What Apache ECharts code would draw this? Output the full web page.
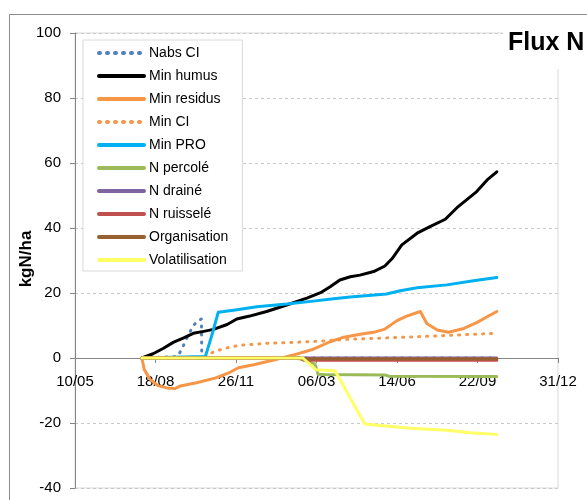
<!DOCTYPE html>
<html>
<head>
<meta charset="utf-8">
<title>Flux N</title>
<script src="https://cdn.jsdelivr.net/npm/echarts@6/dist/echarts.min.js"></script>
<style>
  html, body { margin: 0; padding: 0; background: #fff; }
  #chart { width: 587px; height: 500px; }
</style>
</head>
<body>
<div id="chart"></div>
<script>
// x = jours depuis le 10/05, y = kgN/ha
const xTickLabels = ['10/05', '18/08', '26/11', '06/03', '14/06', '22/09', '31/12'];

const nabsCI = [[83, 0], [125, 0.4], [128, 0.6], [133, 3], [137, 5], [141, 7.3], [147, 9.8], [151, 11.2], [157, 12], [157.5, 0], [524, 0]];
const minHumus = [[83, 0], [97, 1.3], [110, 3], [122, 4.8], [135, 6.2], [147, 7.6], [160, 8.2], [172, 8.8], [189, 10.3], [201, 12], [217, 12.9], [238, 14.3], [263, 16.3], [288, 18.4], [305, 20.1], [317, 21.9], [329, 24], [342, 25], [354, 25.5], [371, 26.6], [385, 28.3], [394, 30.6], [406, 34.8], [425, 38.4], [441, 40.4], [460, 42.7], [476, 46.6], [499, 51.2], [512, 54.8], [524, 57.3]];
const minResidus = [[83, 0], [86, -3.5], [93, -6.5], [103, -8.5], [114, -9.2], [124, -9.4], [131, -8.6], [151, -7.6], [174, -6.2], [191, -4.6], [203, -3], [222, -2.1], [247, -0.6], [271, 0.9], [296, 2.7], [317, 5], [334, 6.4], [354, 7.3], [371, 7.9], [385, 8.9], [400, 11.5], [412, 12.9], [429, 14.3], [437, 10.6], [450, 8.6], [464, 7.9], [483, 9.1], [499, 10.9], [512, 12.7], [524, 14.3]];
const minCI = [[83, 0], [162, 0], [168, 1.4], [176, 2.2], [184, 2.8], [195, 3.5], [209, 4], [238, 4.5], [271, 4.8], [305, 5.2], [329, 5.6], [342, 5.8], [400, 6.3], [450, 6.8], [495, 7.3], [524, 7.6]];
const minPRO = [[83, 0], [162, 0.5], [170, 7], [178, 14.1], [199, 14.8], [226, 15.8], [263, 16.6], [296, 17.5], [321, 18.2], [342, 18.8], [387, 19.7], [404, 20.7], [425, 21.6], [462, 22.5], [495, 23.8], [524, 24.8]];
const nPercole = [[83, 0], [276, 0], [298, -1.8], [302, -5], [310, -5.1], [385, -5.2], [390, -5.6], [524, -5.7]];
const nDraine = [[83, 0], [524, 0]];
const nRuissele = [[83, 0], [280, 0], [285, -0.7], [524, -0.7]];
const organisation = [[83, 0], [280, 0], [285, -0.2], [524, -0.2]];
const volatilisation = [[83, 0], [283, 0], [299, -3.6], [323, -3.9], [360, -20.3], [379, -20.8], [421, -21.7], [462, -22.2], [491, -23], [524, -23.5]];

const FONT = 'Liberation Sans';
const Y_MIN = -40, Y_MAX = 100;
const GRID_TOP = 33, GRID_BOTTOM = 12, H = 500;

function line(name, data, color, dotted) {
  return {
    name: name,
    type: 'line',
    data: data,
    symbol: 'none',
    silent: true,
    lineStyle: {
      color: color,
      width: 3,
      type: dotted ? [1, 7] : 'solid',
      cap: 'round',
      join: 'round'
    },
    itemStyle: { color: color }
  };
}

// l'axe des x croise l'axe des y a 0 (etiquettes sous la ligne du zero)
const plotH = H - GRID_TOP - GRID_BOTTOM;
const zeroOffset = -plotH * (0 - Y_MIN) / (Y_MAX - Y_MIN);

const chart = echarts.init(document.getElementById('chart'), null, { renderer: 'canvas' });

chart.setOption({
  animation: false,
  backgroundColor: '#fff',
  textStyle: { fontFamily: FONT },
  title: {
    text: 'Flux N',
    left: 503,
    top: 24,
    padding: [7, 20, 13, 5],
    backgroundColor: '#fff',
    textStyle: { fontFamily: FONT, fontSize: 25, fontWeight: 'bold', color: '#000' }
  },
  graphic: [{
    type: 'rect',
    shape: { x: 9.5, y: 14.5, width: 620, height: 520 },
    style: { fill: null, stroke: '#8c8c8c', lineWidth: 1 },
    silent: true
  }],
  legend: {
    orient: 'vertical',
    left: 83,
    top: 40,
    itemWidth: 45,
    itemHeight: 14,
    itemGap: 9,
    padding: [6, 14, 4, 14],
    backgroundColor: '#fff',
    borderColor: '#d9d9d9',
    borderWidth: 1,
    borderRadius: 0,
    selectedMode: false,
    itemStyle: { opacity: 0 },
    lineStyle: { width: 4 },
    textStyle: { fontFamily: FONT, fontSize: 14, color: '#000' }
  },
  grid: {
    left: 75,
    right: 29,
    top: GRID_TOP,
    bottom: GRID_BOTTOM,
    show: true,
    borderColor: '#d9d9d9',
    borderWidth: 1
  },
  xAxis: {
    type: 'value',
    min: 0,
    max: 600,
    interval: 100,
    position: 'bottom',
    offset: zeroOffset,
    axisLine: { onZero: false, lineStyle: { color: '#868686', width: 1 } },
    axisTick: { show: true, length: 5, lineStyle: { color: '#868686' } },
    splitLine: { show: false },
    axisLabel: {
      margin: 16,
      fontFamily: FONT,
      fontSize: 15,
      color: '#000',
      formatter: function (v) { return xTickLabels[Math.round(v / 100)]; }
    }
  },
  yAxis: {
    type: 'value',
    min: Y_MIN,
    max: Y_MAX,
    interval: 20,
    name: 'kgN/ha',
    nameLocation: 'middle',
    nameGap: 40,
    nameMoveOverlap: false,
    nameTextStyle: { fontFamily: FONT, fontSize: 17, fontWeight: 'bold', color: '#000', padding: [0, 0, 0, 3] },
    axisLine: { show: true, onZero: false, lineStyle: { color: '#868686', width: 1 } },
    axisTick: { show: true, length: 5, lineStyle: { color: '#868686' } },
    splitLine: { show: true, lineStyle: { color: '#c8c8c8', type: [3, 3], width: 1 } },
    axisLabel: { margin: 14, fontFamily: FONT, fontSize: 15, color: '#000' }
  },
  series: [
    line('Nabs CI', nabsCI, '#4F81BD', true),
    line('Min humus', minHumus, '#000000', false),
    line('Min residus', minResidus, '#F79646', false),
    line('Min CI', minCI, '#F79646', true),
    line('Min PRO', minPRO, '#00B0F0', false),
    line('N percolé', nPercole, '#9BBB59', false),
    line('N drainé', nDraine, '#8064A2', false),
    line('N ruisselé', nRuissele, '#C0504D', false),
    line('Organisation', organisation, '#98602F', false),
    line('Volatilisation', volatilisation, '#FFFF66', false)
  ]
});
</script>
</body>
</html>
